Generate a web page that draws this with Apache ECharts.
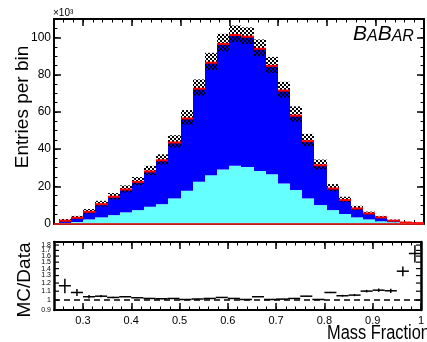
<!DOCTYPE html>
<html>
<head>
<meta charset="utf-8">
<script src="https://cdn.jsdelivr.net/npm/echarts@6/dist/echarts.min.js"></script>
<style>
  html, body { margin: 0; padding: 0; background: #fff; }
  #c { width: 427px; height: 342px; }
</style>
</head>
<body>
<div id="c"></div>
<script>
// Mass-fraction distribution: stacked MC components, data boxes and MC/Data ratio.
const X_MIN = 0.24, X_MAX = 1.0;
const binWidth = 0.025;
const binLo = [0.250, 0.275, 0.300, 0.325, 0.350, 0.375, 0.400, 0.425, 0.450, 0.475,
               0.500, 0.525, 0.550, 0.575, 0.600, 0.625, 0.650, 0.675, 0.700, 0.725,
               0.750, 0.775, 0.800, 0.825, 0.850, 0.875, 0.900, 0.925, 0.950, 0.975];

// Entries per bin, in units of 10^3
const mcTotal = [1.5, 3.1, 6.3, 10.4, 14.4, 18.3, 22.4, 28.0, 34.0, 43.6,
                 56.5, 72.5, 86.5, 96.6, 101.4, 100.5, 94.0, 84.8, 71.5, 58.0,
                 44.3, 31.3, 18.8, 12.6, 8.1, 5.4, 3.3, 1.5, 0.5, 0.2];
const mcLight = [0.3, 0.8, 2.2, 3.3, 4.5, 6.0, 7.2, 9.0, 10.4, 13.5,
                 17.6, 22.4, 26.0, 29.0, 31.0, 30.4, 28.3, 26.5, 21.5, 18.0,
                 13.5, 9.9, 7.2, 5.1, 3.3, 2.2, 1.2, 0.7, 0.3, 0.1];
const dataBoxLo = [0.9, 2.4, 5.3, 9.1, 12.9, 16.7, 20.6, 26.0, 31.7, 40.9,
                   53.2, 68.8, 82.6, 92.6, 97.6, 96.6, 90.0, 81.0, 67.8, 54.8,
                   41.6, 29.2, 17.3, 11.5, 7.2, 4.7, 2.8, 1.1, 0.3, 0.1];
const dataBoxHi = [2.4, 4.1, 7.8, 12.2, 16.4, 20.5, 25.0, 31.0, 37.2, 47.5,
                   61.0, 77.5, 91.8, 102.0, 106.5, 105.5, 99.0, 89.6, 76.2, 63.0,
                   48.2, 34.4, 21.2, 14.4, 9.5, 6.4, 4.1, 2.1, 0.9, 0.5];

// MC/Data ratio and its uncertainty
const ratio = [1.166, 1.085, 1.037, 1.043, 1.029, 1.037, 1.026, 1.018, 1.015, 1.018,
               1.007, 1.012, 1.018, 1.029, 1.018, 1.007, 1.037, 1.007, 1.011, 1.018,
               1.043, 1.007, 1.085, 1.048, 1.055, 1.101, 1.112, 1.105, 1.362, 1.645];
const ratioErr = [0.09, 0.04, 0.02, 0.012, 0.008, 0.006, 0.005, 0.004, 0.004, 0.004,
                  0.003, 0.003, 0.003, 0.003, 0.003, 0.003, 0.003, 0.003, 0.003, 0.004,
                  0.004, 0.005, 0.008, 0.01, 0.012, 0.015, 0.02, 0.025, 0.07, 0.15];

const xMajorTicks = [0.3, 0.4, 0.5, 0.6, 0.7, 0.8, 0.9, 1.0];
const yMajorTicks = [0, 20, 40, 60, 80, 100];
const ratioTicks = [0.9, 1.0, 1.1, 1.2, 1.3, 1.4, 1.5, 1.6, 1.7, 1.8];

const FONT = '"Liberation Sans", Arial, Helvetica, sans-serif';
const BLACK = '#000';

// checkerboard fill for the data boxes
const pat = document.createElement('canvas');
pat.width = 4; pat.height = 4;
const pg = pat.getContext('2d');
pg.fillStyle = '#000';
pg.fillRect(0, 0, 2, 2);
pg.fillRect(2, 2, 2, 2);
const hatch = { image: pat, repeat: 'repeat' };

function xAxesFor(gridIndex, withLabels) {
  const base = { type: 'value', gridIndex, min: X_MIN, max: X_MAX, splitLine: { show: false } };
  const line = { show: true, onZero: false, lineStyle: { color: BLACK, width: 2 } };
  const noLine = { show: false, onZero: false };
  const major = { inside: true, length: 7, customValues: xMajorTicks, lineStyle: { color: BLACK, width: 1.5 } };
  const minor = { inside: true, length: 3.5, lineStyle: { color: BLACK, width: 1 } };
  const labels = withLabels
    ? { show: true, customValues: xMajorTicks, fontSize: 11, fontFamily: FONT, color: BLACK, margin: 5,
        formatter: v => String(Math.round(v * 10) / 10) }
    : { show: false };
  return [
    Object.assign({}, base, { position: 'bottom', axisLine: line, axisTick: major, axisLabel: labels }),
    Object.assign({}, base, { position: 'bottom', interval: 0.02, axisLine: noLine, axisTick: minor, axisLabel: { show: false } }),
    Object.assign({}, base, { position: 'top', axisLine: line, axisTick: major, axisLabel: { show: false } }),
    Object.assign({}, base, { position: 'top', interval: 0.02, axisLine: noLine, axisTick: minor, axisLabel: { show: false } })
  ];
}

function yAxesTop() {
  const base = { type: 'value', gridIndex: 0, min: 0, max: 110, splitLine: { show: false } };
  const line = { show: true, onZero: false, lineStyle: { color: BLACK, width: 2 } };
  const noLine = { show: false, onZero: false };
  const major = { inside: true, length: 7, customValues: yMajorTicks, lineStyle: { color: BLACK, width: 1.5 } };
  const minor = { inside: true, length: 3.5, lineStyle: { color: BLACK, width: 1 } };
  return [
    Object.assign({}, base, { position: 'left', axisLine: line, axisTick: major,
      axisLabel: { show: true, customValues: yMajorTicks, fontSize: 12, fontFamily: FONT, color: BLACK, margin: 3 } }),
    Object.assign({}, base, { position: 'left', interval: 5, axisLine: noLine, axisTick: minor, axisLabel: { show: false } }),
    Object.assign({}, base, { position: 'right', axisLine: line, axisTick: major, axisLabel: { show: false } }),
    Object.assign({}, base, { position: 'right', interval: 5, axisLine: noLine, axisTick: minor, axisLabel: { show: false } })
  ];
}

function yAxesRatio() {
  const base = { type: 'log', logBase: 10, gridIndex: 1, min: 0.9, max: 1.86, splitLine: { show: false },
                 axisTick: { show: false }, axisLabel: { show: false },
                 axisLine: { show: true, onZero: false, lineStyle: { color: BLACK, width: 2.5 } } };
  return [
    Object.assign({}, base, { position: 'left' }),
    Object.assign({}, base, { position: 'right' })
  ];
}

// filled band between two values over one bin
function bandItem(fill, z2) {
  return function (params, api) {
    const x0 = api.value(0), lo = api.value(1), hi = api.value(2);
    const p0 = api.coord([x0, lo]);
    const p1 = api.coord([x0 + binWidth, hi]);
    const left = Math.round(p0[0]), right = Math.round(p1[0]);
    return {
      type: 'rect',
      shape: { x: left, y: p1[1], width: right - left, height: p0[1] - p1[1] },
      style: { fill: fill },
      z2: z2 || 0
    };
  };
}

const chart = echarts.init(document.getElementById('c'), null, { renderer: 'canvas' });

const option = {
  animation: false,
  backgroundColor: '#fff',
  grid: [
    { left: 54, top: 19, width: 370, height: 204.5 },
    { left: 54, top: 242, width: 370, height: 68 }
  ],
  xAxis: xAxesFor(0, false).concat(xAxesFor(1, true)),
  yAxis: yAxesTop().concat(yAxesRatio()),
  series: [
    {
      name: 'light component', type: 'custom', xAxisIndex: 0, yAxisIndex: 0, z: 2,
      data: binLo.map((x, i) => [x, 0, mcLight[i]]),
      renderItem: bandItem('#66ffff')
    },
    {
      name: 'dark component', type: 'custom', xAxisIndex: 0, yAxisIndex: 0, z: 2,
      data: binLo.map((x, i) => [x, mcLight[i], mcTotal[i]]),
      renderItem: bandItem('#0000ff')
    },
    {
      name: 'data', type: 'custom', xAxisIndex: 0, yAxisIndex: 0, z: 3,
      data: binLo.map((x, i) => [x, dataBoxLo[i], dataBoxHi[i]]),
      renderItem: bandItem(hatch)
    },
    {
      name: 'MC total', type: 'custom', xAxisIndex: 0, yAxisIndex: 0, z: 4,
      data: binLo.map((x, i) => [x, mcTotal[i]]),
      renderItem: function (params, api) {
        const x0 = api.value(0), v = api.value(1);
        const p0 = api.coord([x0, v]);
        const p1 = api.coord([x0 + binWidth, v]);
        return {
          type: 'line',
          shape: { x1: Math.round(p0[0]), y1: p0[1], x2: Math.round(p1[0]), y2: p1[1] },
          style: { stroke: '#ff0000', lineWidth: 2 }
        };
      },
      markLine: {
        silent: true, symbol: 'none', label: { show: false },
        lineStyle: { color: '#ff2020', width: 1.5, type: 'solid' },
        data: [{ yAxis: 0 }]
      }
    },
    {
      name: 'MC/Data', type: 'custom', xAxisIndex: 4, yAxisIndex: 4, z: 4,
      data: binLo.map((x, i) => [x, ratio[i], ratioErr[i]]),
      renderItem: function (params, api) {
        const x0 = api.value(0), v = api.value(1), e = api.value(2);
        const a = api.coord([x0, v]);
        const b = api.coord([x0 + binWidth, v]);
        const c = api.coord([x0 + binWidth / 2, v + e]);
        const d = api.coord([x0 + binWidth / 2, v - e]);
        return {
          type: 'group',
          children: [
            { type: 'line', shape: { x1: a[0], y1: a[1], x2: b[0], y2: b[1] }, style: { stroke: BLACK, lineWidth: 1.5 } },
            { type: 'line', shape: { x1: c[0], y1: c[1], x2: d[0], y2: d[1] }, style: { stroke: BLACK, lineWidth: 1.5 } }
          ]
        };
      },
      markLine: {
        silent: true, symbol: 'none', label: { show: false },
        lineStyle: { color: BLACK, width: 1.5, type: [6, 4] },
        data: [{ yAxis: 1 }]
      }
    },
    {
      name: 'ratio ticks', type: 'custom', xAxisIndex: 4, yAxisIndex: 4, z: 5, clip: false, silent: true,
      data: ratioTicks.map(v => [X_MIN, v]),
      renderItem: function (params, api) {
        const v = api.value(1);
        const l = api.coord([X_MIN, v]);
        const r = api.coord([X_MAX, v]);
        return {
          type: 'group',
          children: [
            { type: 'line', shape: { x1: l[0], y1: l[1], x2: l[0] + 5, y2: l[1] }, style: { stroke: BLACK, lineWidth: 1.2 } },
            { type: 'line', shape: { x1: r[0], y1: r[1], x2: r[0] - 5, y2: r[1] }, style: { stroke: BLACK, lineWidth: 1.2 } },
            { type: 'text', x: l[0] - 3, y: l[1],
              style: { text: String(v), fill: BLACK, font: '7px ' + FONT, align: 'right', verticalAlign: 'middle' } }
          ]
        };
      }
    }
  ],
  graphic: [
    { type: 'text', x: 23, y: 107, rotation: Math.PI / 2,
      style: { text: 'Entries per bin', fill: BLACK, font: '19px ' + FONT, align: 'center', verticalAlign: 'middle' } },
    { type: 'text', x: 25, y: 280, rotation: Math.PI / 2,
      style: { text: 'MC/Data', fill: BLACK, font: '19px ' + FONT, align: 'center', verticalAlign: 'middle' } },
    { type: 'text', x: 327, y: 333, scaleX: 0.82,
      style: { text: 'Mass Fraction', fill: BLACK, font: '20px ' + FONT, align: 'left', verticalAlign: 'middle' } },
    { type: 'text', x: 53, y: 13,
      style: { text: '×10³', fill: BLACK, font: '10px ' + FONT, align: 'left', verticalAlign: 'middle' } },
    { type: 'text', x: 353, y: 45,
      style: {
        text: '{b|B}{s|A}{b|B}{s|AR}', fill: BLACK, align: 'left', verticalAlign: 'bottom',
        rich: {
          b: { font: 'italic 21px ' + FONT, fill: BLACK, verticalAlign: 'bottom' },
          s: { font: 'italic 16px ' + FONT, fill: BLACK, verticalAlign: 'bottom' }
        }
      } }
  ]
};

chart.setOption(option);
</script>
</body>
</html>
